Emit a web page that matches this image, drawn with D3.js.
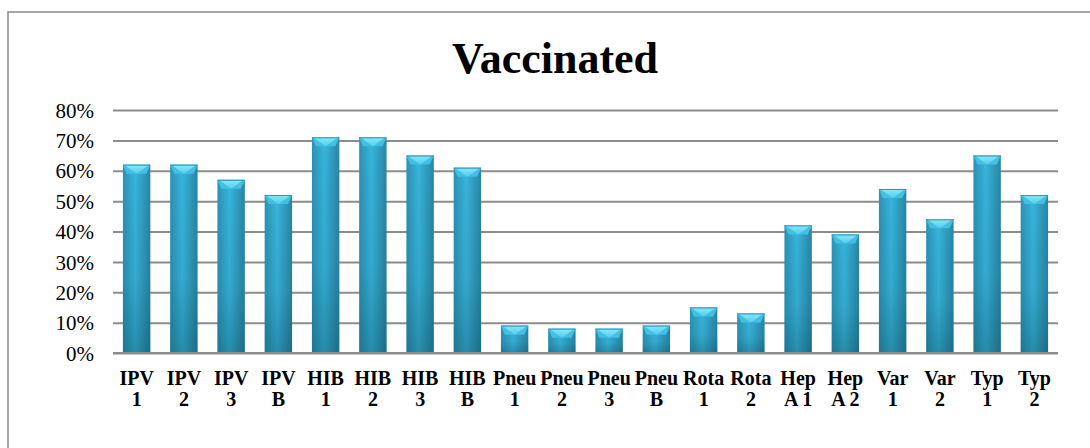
<!DOCTYPE html>
<html>
<head>
<meta charset="utf-8">
<script src="https://cdn.jsdelivr.net/npm/d3@7"></script>
<style>
  html, body { margin: 0; padding: 0; background: #fff; }
  svg { display: block; }
</style>
</head>
<body>
<svg id="chart" width="1090" height="448"></svg>
<script>
const categories = ["IPV 1","IPV 2","IPV 3","IPV B","HIB 1","HIB 2","HIB 3","HIB B",
  "Pneu 1","Pneu 2","Pneu 3","Pneu B","Rota 1","Rota 2","Hep A 1","Hep A 2",
  "Var 1","Var 2","Typ 1","Typ 2"];
const labelLine1 = ["IPV","IPV","IPV","IPV","HIB","HIB","HIB","HIB",
  "Pneu","Pneu","Pneu","Pneu","Rota","Rota","Hep","Hep","Var","Var","Typ","Typ"];
const labelLine2 = ["1","2","3","B","1","2","3","B","1","2","3","B","1","2","A 1","A 2","1","2","1","2"];
const vaccinated = [62,62,57,52,71,71,65,61,9,8,8,9,15,13,42,39,54,44,65,52];
const yTicks = [0,10,20,30,40,50,60,70,80];
const title = "Vaccinated";

const svg = d3.select("#chart");
const W = 1090, H = 448;
const plot = { left: 113, right: 1058, top: 110, bottom: 353 };

// frame
svg.append("rect").attr("x", 8).attr("y", 12).attr("width", 1100).attr("height", 460)
  .attr("fill", "#fff").attr("stroke", "#8a8a8a").attr("stroke-width", 1.5);

const defs = svg.append("defs");
const gH = defs.append("linearGradient").attr("id", "barH").attr("x1", "0").attr("x2", "1").attr("y1", "0").attr("y2", "0");
gH.append("stop").attr("offset", "0%").attr("stop-color", "#2a93b4");
gH.append("stop").attr("offset", "45%").attr("stop-color", "#38b5dc");
gH.append("stop").attr("offset", "100%").attr("stop-color", "#2886a5");
const gV = defs.append("linearGradient").attr("id", "barV").attr("x1", "0").attr("x2", "0").attr("y1", "0").attr("y2", "1");
gV.append("stop").attr("offset", "0%").attr("stop-color", "#000").attr("stop-opacity", 0);
gV.append("stop").attr("offset", "60%").attr("stop-color", "#00303f").attr("stop-opacity", 0.08);
gV.append("stop").attr("offset", "100%").attr("stop-color", "#00303f").attr("stop-opacity", 0.3);
const gT = defs.append("linearGradient").attr("id", "barTop").attr("x1", "0").attr("x2", "0").attr("y1", "0").attr("y2", "1");
gT.append("stop").attr("offset", "0%").attr("stop-color", "#8be8fb");
gT.append("stop").attr("offset", "100%").attr("stop-color", "#4fcdee");

const x = d3.scaleBand().domain(categories).range([plot.left, plot.right])
  .paddingInner(0.42).paddingOuter(0.21);
const y = d3.scaleLinear().domain([0, 80]).range([plot.bottom, plot.top]);

// gridlines
const yAxis = d3.axisLeft(y).tickValues(yTicks).tickSize(-(plot.right - plot.left))
  .tickFormat(d => d + "%").tickPadding(19);
const gy = svg.append("g").attr("transform", `translate(${plot.left},0)`).call(yAxis);
gy.select(".domain").remove();
gy.selectAll(".tick line").attr("stroke", "#8c8c8c").attr("stroke-width", 2);
gy.selectAll(".tick text").attr("font-family", "'Liberation Serif', 'Times New Roman', serif")
  .attr("font-size", 21).attr("fill", "#000").attr("dy", "0.34em");

// bars
const bars = svg.append("g").selectAll("g.bar").data(categories).join("g").attr("class", "bar");
bars.append("rect")
  .attr("x", d => x(d)).attr("width", x.bandwidth())
  .attr("y", (d, i) => y(vaccinated[i])).attr("height", (d, i) => y(0) - y(vaccinated[i]))
  .attr("fill", "url(#barH)");
bars.append("rect")
  .attr("x", d => x(d)).attr("width", x.bandwidth())
  .attr("y", (d, i) => y(vaccinated[i])).attr("height", (d, i) => y(0) - y(vaccinated[i]))
  .attr("fill", "url(#barV)");
bars.append("path")
  .attr("d", (d, i) => {
    const x0 = x(d), x1 = x(d) + x.bandwidth(), yt = y(vaccinated[i]), h = 9, inset = 4;
    return `M${x0},${yt} L${x1},${yt} L${x1 - inset},${yt + h} L${x0 + inset},${yt + h} Z`;
  })
  .attr("fill", "#43bfe3");
bars.append("path")
  .attr("d", (d, i) => {
    const x0 = x(d), x1 = x(d) + x.bandwidth(), yt = y(vaccinated[i]), h = 9;
    const xc = (x0 + x1) / 2;
    return `M${x0 + 1},${yt} L${x1 - 1},${yt} L${xc},${yt + h} Z`;
  })
  .attr("fill", "url(#barTop)");
bars.append("line")
  .attr("x1", d => x(d)).attr("x2", d => x(d) + x.bandwidth())
  .attr("y1", (d, i) => y(vaccinated[i]) + 0.5).attr("y2", (d, i) => y(vaccinated[i]) + 0.5)
  .attr("stroke", "#2a95b6").attr("stroke-width", 1);

// baseline
svg.append("line").attr("x1", plot.left).attr("x2", plot.right)
  .attr("y1", y(0)).attr("y2", y(0)).attr("stroke", "#8c8c8c").attr("stroke-width", 2);

// category labels
const xl = svg.append("g").selectAll("text").data(categories).join("text")
  .attr("x", d => x(d) + x.bandwidth() / 2)
  .attr("text-anchor", "middle")
  .attr("font-family", "'Liberation Serif', 'Times New Roman', serif")
  .attr("font-weight", "bold").attr("font-size", 20).attr("fill", "#000");
xl.append("tspan").attr("x", d => x(d) + x.bandwidth() / 2).attr("y", 385).text((d, i) => labelLine1[i]);
xl.append("tspan").attr("x", d => x(d) + x.bandwidth() / 2).attr("y", 406).text((d, i) => labelLine2[i]);

// title
svg.append("text").attr("x", 555).attr("y", 72.5).attr("text-anchor", "middle")
  .attr("font-family", "'Liberation Serif', 'Times New Roman', serif")
  .attr("font-weight", "bold").attr("font-size", 44).attr("fill", "#000").text(title);
</script>
</body>
</html>
